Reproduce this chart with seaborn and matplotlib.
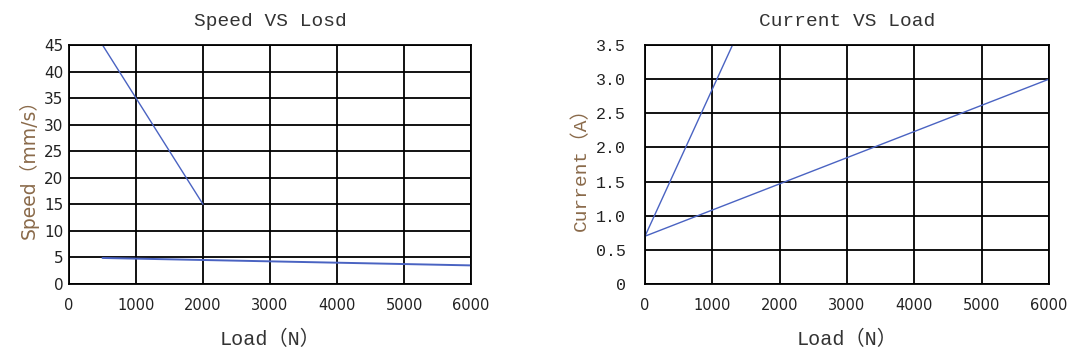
import matplotlib
matplotlib.use("Agg")
import matplotlib.pyplot as plt
import seaborn as sns
import pandas as pd

sns.set_theme(style="white")
plt.rcParams['font.family'] = ['Liberation Mono', 'Noto Sans CJK SC', 'DejaVu Sans']

# Speed vs Load
speed_load_a = [500, 1000, 2000]
speed_val_a = [45, 35, 15]
speed_load_b = [500, 6000]
speed_val_b = [4.9, 3.5]
speed_yticks = [0, 5, 10, 15, 20, 25, 30, 35, 40, 45]

# Current vs Load
cur_load_a = [0, 1300]
cur_val_a = [0.7, 3.5]
cur_load_b = [0, 6000]
cur_val_b = [0.7, 3.0]
cur_yticks = [0, 0.5, 1.0, 1.5, 2.0, 2.5, 3.0, 3.5]
cur_ylabels = ["0", "0.5", "1.0", "1.5", "2.0", "2.5", "3.0", "3.5"]

xticks = [0, 1000, 2000, 3000, 4000, 5000, 6000]

line_color = "#4a63c2"
label_color = "#8a6a4a"
text_color = "#333333"

fig = plt.figure(figsize=(10.75, 3.53), dpi=100)
ax1 = fig.add_axes([0.0642, 0.1955, 0.374, 0.677])
ax2 = fig.add_axes([0.600, 0.1955, 0.3758, 0.677])

df1a = pd.DataFrame({"x": speed_load_a, "y": speed_val_a})
df1b = pd.DataFrame({"x": speed_load_b, "y": speed_val_b})
sns.lineplot(data=df1a, x="x", y="y", ax=ax1, color=line_color, linewidth=1.0)
sns.lineplot(data=df1b, x="x", y="y", ax=ax1, color=line_color, linewidth=1.4)

df2a = pd.DataFrame({"x": cur_load_a, "y": cur_val_a})
df2b = pd.DataFrame({"x": cur_load_b, "y": cur_val_b})
sns.lineplot(data=df2a, x="x", y="y", ax=ax2, color=line_color, linewidth=1.0)
sns.lineplot(data=df2b, x="x", y="y", ax=ax2, color=line_color, linewidth=1.0)

for ax in (ax1, ax2):
    ax.set_xlim(0, 6000)
    ax.set_xticks(xticks)
    ax.grid(True, color="black", linewidth=1.3)
    ax.set_axisbelow(True)
    for s in ax.spines.values():
        s.set_color("black")
        s.set_linewidth(1.3)
    ax.tick_params(axis="both", length=0, pad=10)
    ax.set_xticklabels([str(t) for t in xticks], fontsize=10.5, color="#222222",
                       family=['DejaVu Sans'])

ax1.set_ylim(0, 45)
ax1.set_yticks(speed_yticks)
ax1.set_yticklabels([str(t) for t in speed_yticks], fontsize=11, color="#222222",
                    family=['DejaVu Sans'])
ax1.tick_params(axis="y", pad=4)

ax2.set_ylim(0, 3.5)
ax2.set_yticks(cur_yticks)
ax2.set_yticklabels(cur_ylabels, fontsize=12, color="#222222")
ax2.tick_params(axis="y", pad=14)

ax1.set_title("Speed VS Losd", fontsize=14, color=text_color, pad=14)
ax2.set_title("Current VS Load", fontsize=14, color=text_color, pad=14)

ax1.set_xlabel("Load（N）", fontsize=14.5, color=text_color, labelpad=12)
ax2.set_xlabel("Load（N）", fontsize=14.5, color=text_color, labelpad=12)
ax1.set_ylabel("Speed（mm/s）", fontsize=13.5, color=label_color, labelpad=4,
               family=['DejaVu Sans', 'Noto Sans CJK SC'])
ax2.set_ylabel("Current（A）", fontsize=14, color=label_color, labelpad=4)

fig.savefig("out.png", dpi=100, facecolor="white")
